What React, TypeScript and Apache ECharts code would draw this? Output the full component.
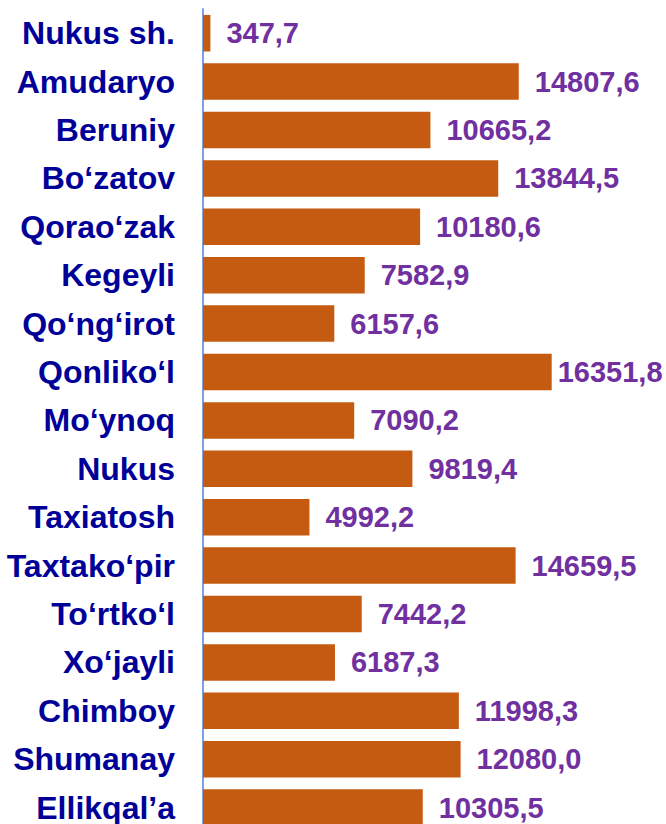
import React, { useEffect, useRef } from "react";
import * as echarts from "echarts";

const categories = [
  "Nukus sh.",
  "Amudaryo",
  "Beruniy",
  "Bo‘zatov",
  "Qorao‘zak",
  "Kegeyli",
  "Qo‘ng‘irot",
  "Qonliko‘l",
  "Mo‘ynoq",
  "Nukus",
  "Taxiatosh",
  "Taxtako‘pir",
  "To‘rtko‘l",
  "Xo‘jayli",
  "Chimboy",
  "Shumanay",
  "Ellikqal’a",
];

const values = [
  347.7, 14807.6, 10665.2, 13844.5, 10180.6, 7582.9, 6157.6, 16351.8, 7090.2,
  9819.4, 4992.2, 14659.5, 7442.2, 6187.3, 11998.3, 12080.0, 10305.5,
];

const AXIS_MAX = 20000;

export default function App() {
  const ref = useRef<HTMLDivElement>(null);

  useEffect(() => {
    if (!ref.current) return;
    const chart = echarts.init(ref.current, undefined, { renderer: "svg" });
    const maxVal = Math.max(...values);
    const data = values.map((v) =>
      v === maxVal ? { value: v, label: { distance: 6 } } : { value: v }
    );
    chart.setOption({
      animation: false,
      backgroundColor: "#ffffff",
      grid: { left: 203, top: 9, width: 426.5, height: 822.8 },
      xAxis: {
        type: "value",
        min: 0,
        max: AXIS_MAX,
        show: false,
      },
      yAxis: {
        type: "category",
        data: categories,
        inverse: true,
        axisTick: { show: false },
        axisLine: { show: true, lineStyle: { color: "#7EA1DC", width: 2 } },
        axisLabel: {
          margin: 28,
          color: "#000099",
          fontWeight: "bold",
          fontSize: 32,
          fontFamily: "Liberation Sans, Arial, sans-serif",
        },
        splitLine: { show: false },
      },
      series: [
        {
          type: "bar",
          data,
          barCategoryGap: "24.5%",
          itemStyle: { color: "#C55A11" },
          label: {
            show: true,
            position: "right",
            distance: 16,
            color: "#7030A0",
            fontWeight: "bold",
            fontSize: 29,
            fontFamily: "Liberation Sans, Arial, sans-serif",
            formatter: (p: any) => Number(p.value).toFixed(1).replace(".", ","),
          },
        },
      ],
    });
    return () => chart.dispose();
  }, []);

  return (
    <div
      style={{
        position: "absolute",
        left: 0,
        top: 0,
        width: 666,
        height: 824,
        overflow: "hidden",
      }}
    >
      <div ref={ref} style={{ width: 666, height: 840 }} />
    </div>
  );
}
